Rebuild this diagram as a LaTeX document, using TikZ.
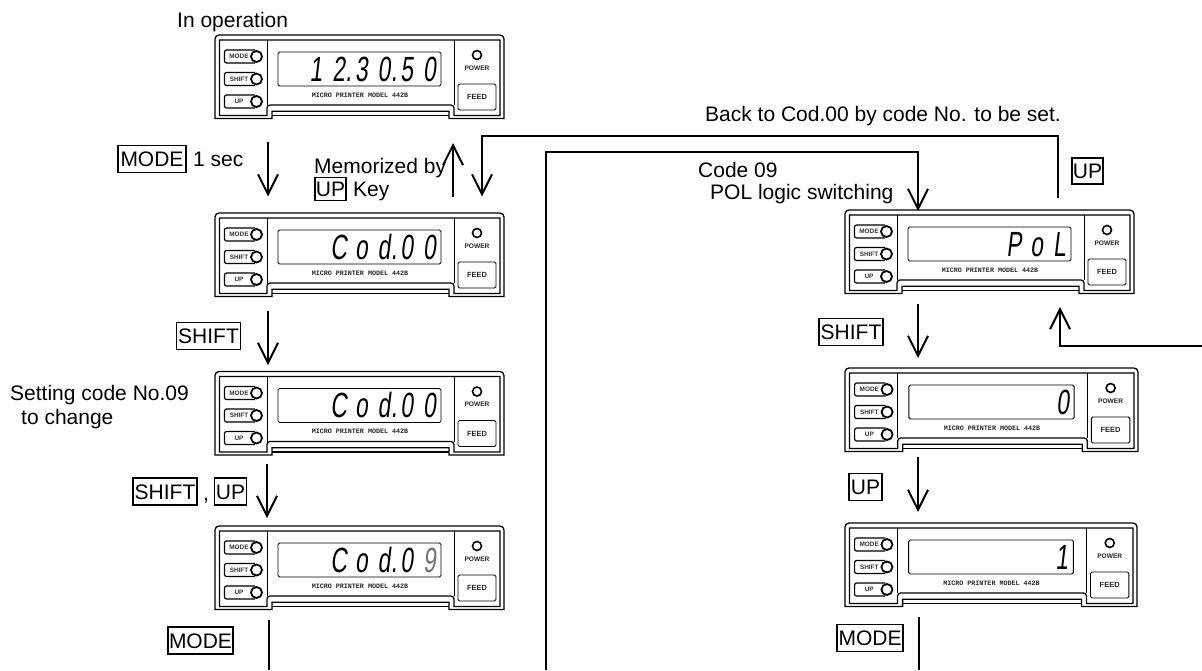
\documentclass[tikz,border=0pt]{standalone}
\usepackage{fontspec}
\setmainfont{Liberation Sans}
\newfontfamily\segfont[FakeStretch=0.65,FakeSlant=0.12]{Liberation Sans}
\newfontfamily\capfont{Liberation Mono}
\usetikzlibrary{arrows.meta}
\newcommand\dg[1]{\makebox[22.7pt][c]{#1}}
\newcommand\dgp[1]{\makebox[22.7pt][c]{#1\rlap{\kern0.5pt.}}}
\tikzset{
  lbl/.style={anchor=base west,inner sep=0pt,font=\fontsize{21}{21}\selectfont},
  keybox/.style={draw,line width=1.8pt,inner sep=0pt,text height=15pt,text depth=0pt,align=center,font=\fontsize{21}{21}\selectfont},
  flow/.style={line width=2pt},
  flowarrow/.style={line width=2pt,-{Straight Barb[length=20pt,width=20pt,line width=2pt]}},
  panelline/.style={line width=1.3pt},
  thinframe/.style={line width=0.9pt},
  btn/.style={draw,line width=1.2pt,rounded corners=2pt},
  lamp/.style={draw,fill=white,circle,inner sep=0pt,line width=1.8pt,minimum size=11pt},
  btntext/.style={inner sep=0pt,text=black!80,font=\fontsize{6.4}{6.4}\selectfont\bfseries},
  captext/.style={inner sep=0pt,text=black!85,font=\fontsize{6.7}{6.7}\capfont\bfseries},
  readout/.style={anchor=base east,inner sep=0pt,font=\fontsize{35}{35}\segfont},
}
% #1 name, #2 x, #3 y, #4 width scale, #5 readout
\newcommand\panel[5]{%
\begin{scope}[shift={(#2,#3)},xscale=#4]
  \draw[panelline] (0,83.5) [rounded corners=4pt]-- (0,0) -- (289,0) [sharp corners]-- (289,83.5) -- (234,83.5) -- (234,76.3) -- (57,76.3) -- (57,83.5) -- cycle;
  \draw[panelline] (57,80.5) -- (234,80.5);
  \draw[panelline] (4.5,5) -- (285,5) -- (285,80.5) -- (239,80.5) [rounded corners=3pt]-- (239,70) -- (52,70) [sharp corners]-- (52,80.5) -- (4.5,80.5) -- cycle;
  \draw[thinframe] (52,5) -- (52,70) (239,5) -- (239,70);
  \draw[thinframe,rounded corners=1.5pt] (63,17) rectangle (226,51);
  \draw[thinframe,rounded corners=1.5pt] (243,49) rectangle (281,75);
  \foreach \yy in {21.5,44,66.5} {
    \draw[btn] (40,\yy-6.5) -- (9.5,\yy-6.5) -- (9.5,\yy+6.5) -- (40,\yy+6.5);
  }
  \node[lamp] (#1lm) at (41.5,21.5) {};
  \node[lamp] (#1ls) at (41.5,44) {};
  \node[lamp] (#1lu) at (41.5,66.5) {};
  \node[btntext] (#1bm) at (24,21.5) {MODE};
  \node[btntext] (#1bs) at (24,44) {SHIFT};
  \node[btntext] (#1bu) at (24,66.5) {UP};
  \node[draw,circle,inner sep=0pt,line width=1.6pt,minimum size=9pt] (#1led) at (262,20) {};
  \node[inner sep=0pt,text=black!85,font=\fontsize{6.6}{6.6}\selectfont\bfseries] (#1pw) at (262,33) {POWER};
  \node[inner sep=0pt,text=black!85,font=\fontsize{7.5}{7.5}\selectfont\bfseries] (#1fd) at (262,62) {FEED};
  \node[captext] (#1cp) at (145,60) {MICRO PRINTER MODEL 442B};
  \node[readout] (#1rd) at (226,46) {#5};
\end{scope}}
\begin{document}
\begin{tikzpicture}[x=1pt,y=-1pt]
\useasboundingbox (0,0) rectangle (1202,670);
\panel{pa}{215}{35}{1}{\dg{1}\dgp{2}\dg{3}\dgp{0}\dg{5}\dg{0}}
\panel{pb}{215}{213}{1}{\dg{C}\dg{o}\dgp{d}\dg{0}\dg{0}}
\panel{pc}{215}{371.5}{1}{\dg{C}\dg{o}\dgp{d}\dg{0}\dg{0}}
\panel{pd}{215}{526}{1}{\dg{C}\dg{o}\dgp{d}\dg{0}\dg{\textcolor{black!55}{9}}}
\panel{pe}{845}{210}{1}{\dg{P}\dg{o}\dg{L}}
\panel{pf}{845}{368}{1.0138}{\dg{0}}
\panel{pg}{845}{523}{1.0104}{\dg{1}}

\node[lbl] (t1) at (177,27) {In operation};
\node[lbl] (t2) at (705,121) {Back to Cod.00 by code No. to be set.};
\node[lbl] (t3) at (698,177) {Code 09};
\node[lbl] (t4) at (710,199) {POL logic switching};
\node[lbl] (t5) at (314,173) {Memorized by};
\node[lbl] (t6) at (353,196) {Key};
\node[lbl] (t7) at (193,166) {1 sec};
\node[lbl] (t8) at (10,400) {Setting code No.09};
\node[lbl] (t9) at (21,424) {to change};
\node[lbl] (t10) at (203,500) {,};

\node[keybox,minimum width=68pt,minimum height=27pt] (k1) at (152,159) {MODE};
\node[keybox,minimum width=31pt,minimum height=23pt,text height=15pt] (k2) at (330.5,189) {UP};
\node[keybox,minimum width=64pt,minimum height=27pt] (k3) at (208.5,336) {SHIFT};
\node[keybox,minimum width=64pt,minimum height=27pt] (k4) at (165,491.5) {SHIFT};
\node[keybox,minimum width=32pt,minimum height=27pt] (k5) at (230.5,491.5) {UP};
\node[keybox,minimum width=65pt,minimum height=27pt] (k6) at (200.5,640.5) {MODE};
\node[keybox,minimum width=31pt,minimum height=26pt] (k7) at (1087.5,171) {UP};
\node[keybox,minimum width=64pt,minimum height=27pt] (k8) at (851,332) {SHIFT};
\node[keybox,minimum width=33pt,minimum height=27pt] (k9) at (865.5,487) {UP};
\node[keybox,minimum width=66pt,minimum height=27pt] (k10) at (870,638) {MODE};

\coordinate (a1s) at (268,142); \coordinate (a1e) at (268,196.5);
\coordinate (a2s) at (453,197); \coordinate (a2e) at (453,143);
\coordinate (a3s) at (1058,198); \coordinate (a3b) at (1058,135.5); \coordinate (a3c) at (482,135.5); \coordinate (a3e) at (482,196.5);
\coordinate (a4s) at (546,670); \coordinate (a4b) at (546,152); \coordinate (a4c) at (918,152); \coordinate (a4e) at (918,211);
\coordinate (a5s) at (268,311); \coordinate (a5e) at (268,365);
\coordinate (a6s) at (267,464); \coordinate (a6e) at (267,518);
\coordinate (a7s) at (269,620); \coordinate (a7e) at (269,670);
\coordinate (a8s) at (918,304); \coordinate (a8e) at (918,358);
\coordinate (a9s) at (1202,345.5); \coordinate (a9b) at (1060,345.5); \coordinate (a9e) at (1060,307);
\coordinate (a10s) at (918,457); \coordinate (a10e) at (918,512);
\coordinate (a11s) at (919,617); \coordinate (a11e) at (919,670);

\draw[flowarrow] (a1s) -- (a1e);
\draw[flowarrow] (a2s) -- (a2e);
\draw[flowarrow] (a3s) -- (a3b) -- (a3c) -- (a3e);
\draw[flowarrow] (a4s) -- (a4b) -- (a4c) -- (a4e);
\draw[flowarrow] (a5s) -- (a5e);
\draw[flowarrow] (a6s) -- (a6e);
\draw[flow] (a7s) -- (a7e);
\draw[flowarrow] (a8s) -- (a8e);
\draw[flowarrow] (a9s) -- (a9b) -- (a9e);
\draw[flowarrow] (a10s) -- (a10e);
\draw[flow] (a11s) -- (a11e);
\end{tikzpicture}
\end{document}
